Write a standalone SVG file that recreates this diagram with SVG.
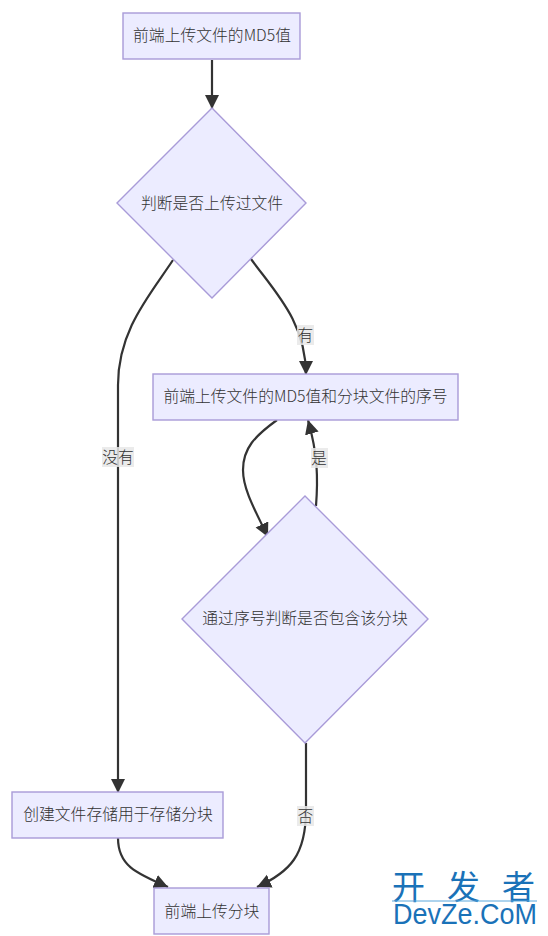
<svg xmlns="http://www.w3.org/2000/svg" width="548" height="936" viewBox="0 0 548 936">
<defs>
<marker id="arrow" markerUnits="userSpaceOnUse" markerWidth="15" markerHeight="15" refX="14" refY="7" orient="auto"><path d="M0 0L14 7L0 14z" fill="#333"/></marker>
</defs>
<style>
.n{fill:#ececff;stroke:#a99bd8;stroke-width:1.4}
text{font-family:"Noto Sans CJK SC","Liberation Sans",sans-serif;font-size:15.8px;font-weight:300;fill:#333;text-anchor:middle;dominant-baseline:central}
.c{fill:none;stroke:#333;stroke-width:2.2;marker-end:url(#arrow)}
.lb{fill:#e8e8e8;opacity:.85}
</style>
<rect width="548" height="936" fill="#fff"/>
<g id="connectors">
<path class="c" d="M212 60V109"/>
<path class="c" d="M173 260C150 295 118 330 118 385V793"/>
<path class="c" d="M251 259C275 292 306 322 306 375"/>
<path class="c" d="M277 420C255 436 243 448 243 470C243 490 256 512 268 537"/>
<path class="c" d="M316 506C318 480 318 455 308 420"/>
<path class="c" d="M306 743V810C306 855 290 872 257 887"/>
<path class="c" d="M118 838C118 865 135 873 168 887"/>
</g>
<g id="edge-labels">
<g id="l-you"><rect class="lb" x="297" y="325" width="17" height="20"/><text x="305.500" y="334">有</text></g>
<g id="l-meiyou"><rect class="lb" x="102" y="447" width="32" height="20"/><text x="118" y="456">没有</text></g>
<g id="l-shi"><rect class="lb" x="311" y="448" width="17" height="20"/><text x="319" y="457">是</text></g>
<g id="l-fou"><rect class="lb" x="297" y="806" width="17" height="20"/><text x="305.500" y="815">否</text></g>
</g>
<g id="n1"><rect class="n" x="123" y="13" width="177" height="46"/><text x="212" y="34.500">前端上传文件的MD5值</text></g>
<g id="n2"><polygon class="n" points="212,108 306,203 212,298 117,203"/><text x="212" y="202">判断是否上传过文件</text></g>
<g id="n3"><rect class="n" x="153" y="374" width="305" height="46"/><text x="305.500" y="395">前端上传文件的MD5值和分块文件的序号</text></g>
<g id="n4"><polygon class="n" points="305,496 428,619 305,743 182,619"/><text x="305" y="617">通过序号判断是否包含该分块</text></g>
<g id="n5"><rect class="n" x="12" y="792" width="211" height="46"/><text x="118" y="813">创建文件存储用于存储分块</text></g>
<g id="n6"><rect class="n" x="154" y="888" width="115" height="46"/><text x="212" y="910">前端上传分块</text></g>
<g id="watermark">
<text x="392 447 502" y="885" style="font-size:33px;font-weight:400;fill:#1a72b8;text-anchor:start">开发者</text>
<line x1="392" y1="901" x2="537" y2="901" stroke="#5aa7dc" stroke-width="1"/>
<text x="393" y="914" textLength="144" lengthAdjust="spacingAndGlyphs" style="font-family:'Liberation Sans',sans-serif;font-size:29px;font-weight:400;fill:#1a72b8;text-anchor:start">DevZe.CoM</text>
</g>
</svg>
